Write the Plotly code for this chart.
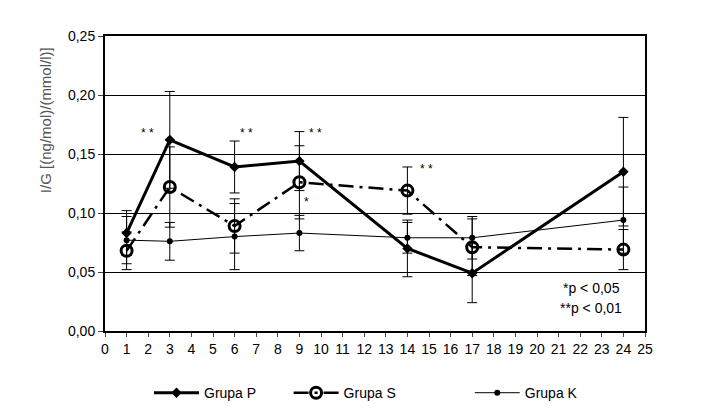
import plotly.graph_objects as go

x_days = [1, 3, 6, 9, 14, 17, 24]

p_vals = [0.083, 0.162, 0.139, 0.144, 0.070, 0.049, 0.135]
p_err = [0.019, 0.041, 0.022, 0.025, 0.024, 0.025, 0.046]

s_vals = [0.068, 0.122, 0.089, 0.126, 0.119, 0.071, 0.069]
s_err = [0.016, 0.034, 0.023, 0.031, 0.020, 0.024, 0.017]

k_vals = [0.077, 0.076, 0.080, 0.083, 0.079, 0.079, 0.094]
k_err = [0.020, 0.016, 0.028, 0.015, 0.013, 0.018, 0.028]

sig_x = [1.97, 6.54, 9.75, 9.35, 14.9]
sig_y = [0.168, 0.168, 0.168, 0.109, 0.137]
sig_text = ["* *", "* *", "* *", "*", "* *"]

y_ticks = [0.00, 0.05, 0.10, 0.15, 0.20, 0.25]
x_ticks = list(range(0, 26))

FONT = "Liberation Sans, Arial"

fig = go.Figure()

fig.add_trace(go.Scatter(
    x=x_days, y=p_vals, name="Grupa P", mode="lines+markers", legend="legend",
    line=dict(color="black", width=3),
    marker=dict(symbol="diamond", size=8, color="black"),
    error_y=dict(type="data", array=p_err, color="black", thickness=1, width=5),
))
fig.add_trace(go.Scatter(
    x=x_days, y=s_vals, name="Grupa S", mode="lines+markers", legend="legend2",
    line=dict(color="black", width=2.5, dash="longdashdot"),
    marker=dict(symbol="circle-open", size=11, color="black", line=dict(width=3, color="black")),
    error_y=dict(type="data", array=s_err, color="black", thickness=1, width=5),
))
fig.add_trace(go.Scatter(
    x=x_days, y=k_vals, name="Grupa K", mode="lines+markers", legend="legend3",
    line=dict(color="black", width=1),
    marker=dict(symbol="circle", size=6, color="black"),
    error_y=dict(type="data", array=k_err, color="black", thickness=1, width=5),
))

for xx, yy, tt in zip(sig_x, sig_y, sig_text):
    fig.add_annotation(x=xx, y=yy, text=tt, showarrow=False,
                       xanchor="center", yanchor="middle",
                       font=dict(size=12, color="black", family=FONT))

fig.add_annotation(xref="paper", yref="paper", x=0.90, y=0.146, text="*p < 0,05",
                   showarrow=False, xanchor="center", yanchor="middle",
                   font=dict(size=14, color="black", family=FONT))
fig.add_annotation(xref="paper", yref="paper", x=0.90, y=0.078, text="**p < 0,01",
                   showarrow=False, xanchor="center", yanchor="middle",
                   font=dict(size=14, color="black", family=FONT))

fig.add_annotation(xref="paper", yref="paper", x=-0.111, y=0.715,
                   text="I/G [(ng/mol)/(mmol/l)]", textangle=-90,
                   showarrow=False, xanchor="center", yanchor="middle",
                   font=dict(size=15, color="#555", family=FONT))

def leg(xpos):
    return dict(orientation="h", xref="container", yref="container",
                x=xpos, xanchor="left", y=0.063, yanchor="middle",
                font=dict(size=14, family=FONT), itemwidth=45,
                bgcolor="rgba(0,0,0,0)")

fig.update_layout(
    width=705, height=411,
    margin=dict(l=97, r=68, t=28, b=88, autoexpand=False),
    paper_bgcolor="white", plot_bgcolor="white",
    separators=",.",
    font=dict(family=FONT, size=14, color="black"),
    showlegend=True,
    legend=leg(0.200),
    legend2=leg(0.398),
    legend3=leg(0.655),
    xaxis=dict(range=[0, 25], tickvals=x_ticks, ticks="outside", ticklen=4,
               showgrid=False, showline=True, linecolor="black", linewidth=2,
               mirror=True, zeroline=False, tickfont=dict(size=14)),
    yaxis=dict(range=[0, 0.25], tickvals=y_ticks, tickformat=".2f",
               ticks="outside", ticklen=5, showgrid=True, gridcolor="black",
               gridwidth=1, showline=True, linecolor="black", linewidth=2,
               mirror=True, zeroline=False, tickfont=dict(size=14)),
)

fig.write_html("out.html")
